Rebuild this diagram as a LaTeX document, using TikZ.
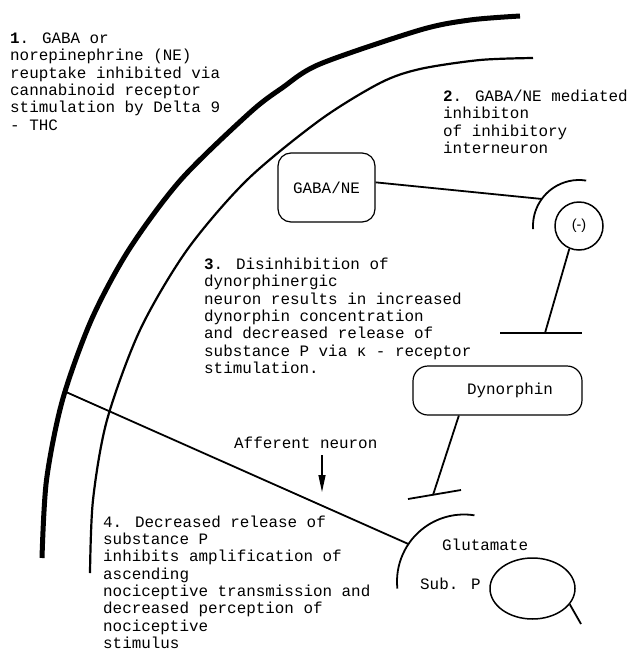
\documentclass[tikz,border=0pt]{standalone}
\usepackage{fontspec}
\newfontfamily\courier{Liberation Mono}
\newfontfamily\arial{Liberation Sans}
\usetikzlibrary{shapes.geometric,arrows.meta}

\begin{document}
\begin{tikzpicture}[x=1pt,y=-1pt,
    txt/.style={font=\courier\fontsize{15.9}{17.3}\selectfont, inner sep=0pt, align=left, anchor=base west},
    boite/.style={draw, rounded corners=13pt, line width=1.2pt, inner sep=0pt,
        font=\courier\fontsize{15.9}{17.3}\selectfont},
    trait/.style={line width=1.8pt}]

    \useasboundingbox (0,0) rectangle (629,651);

    % Membranes
    \coordinate (affA) at (66,392);
    \draw[line width=5pt] plot[smooth] coordinates {(520,16) (470,20) (420,30) (320,64) (282,88) (249.5,113) (180.6,180) (128.7,250) (91.3,320) (62.5,400) (46.5,480) (42,558)};
    \draw[line width=2.2pt] plot[smooth] coordinates {(533,58) (480,60) (420,69) (380,83) (320,120) (247,180) (187,250) (140,330) (107,420) (93,500) (90,573)};

    % Textes (ancre = ligne de base de la derniere ligne)
    \node[txt] (t1) at (10,130) {\textbf{1}. GABA or\\norepinephrine (NE)\\reuptake inhibited via\\cannabinoid receptor\\stimulation by Delta 9\\- THC};
    \node[txt] (t2) at (443,153.4) {\textbf{2}. GABA/NE mediated\\inhibiton\\of inhibitory\\interneuron};
    \node[txt] (t3) at (204,373.3) {\textbf{3}. Disinhibition of\\dynorphinergic\\neuron results in increased\\dynorphin concentration\\and decreased release of\\substance P via κ - receptor\\stimulation.};
    \node[txt] (t4) at (103,648.4) {4. Decreased release of\\substance P\\inhibits amplification of\\ascending\\nociceptive transmission and\\decreased perception of\\nociceptive\\stimulus};

    % Interneurone inhibiteur
    \node[boite, minimum width=97pt, minimum height=69pt] (gaba) at (326.5,187.5) {GABA/NE};
    \node[draw, circle, minimum size=48pt, inner sep=0pt, line width=1.5pt,
        font=\arial\fontsize{14.5}{16}\selectfont] (inhib) at (579,226) {(-)};
    \draw[trait] (inhib.center) ++(184:46pt) arc[start angle=184, end angle=81, radius=46pt];
    \path (inhib.center) ++(144:46pt) coordinate (recA);
    \draw[trait] (gaba.6.5) -- (recA);
    \coordinate (bar1) at (545,333);
    \draw[trait] (inhib.-113) -- (bar1);
    \draw[trait] (500,333) -- (582,333);

    % Neurone dynorphinergique
    \node[boite, rounded corners=15pt, minimum width=169pt, minimum height=49pt] (dyn) at (497.5,390.5) {\hspace*{25pt}Dynorphin};
    \coordinate (bar2) at (433,495);
    \draw[trait] (dyn.-147.5) -- (bar2);
    \draw[trait] (408,499) -- (461,490);

    % Neurone afferent
    \coordinate (glu) at (464,581.5);
    \draw[trait] (glu) ++(186:67pt) arc[start angle=186, end angle=81, radius=67pt];
    \path (glu) ++(146:67pt) coordinate (gluA);
    \draw[trait] (affA) -- (gluA);
    \node[txt] (afflabel) at (234,448.5) {Afferent neuron};
    \coordinate (affTip) at (322,492);
    \draw[-{Triangle[length=17pt,width=7pt]}, line width=1.3pt, shorten <=6.5pt] (afflabel.south -| affTip) -- (affTip);

    % Vesicule
    \node[txt] (glutxt) at (442,550.5) {Glutamate};
    \node[txt] (subtxt) at (420,589.5) {Sub. P};
    \node[draw, ellipse, minimum width=85pt, minimum height=61pt, line width=1.5pt] (subp) at (532.5,588.5) {};
    \coordinate (subpEnd) at (581,624);
    \draw[trait] (subp.-23) -- (subpEnd);

\end{tikzpicture}
\end{document}
